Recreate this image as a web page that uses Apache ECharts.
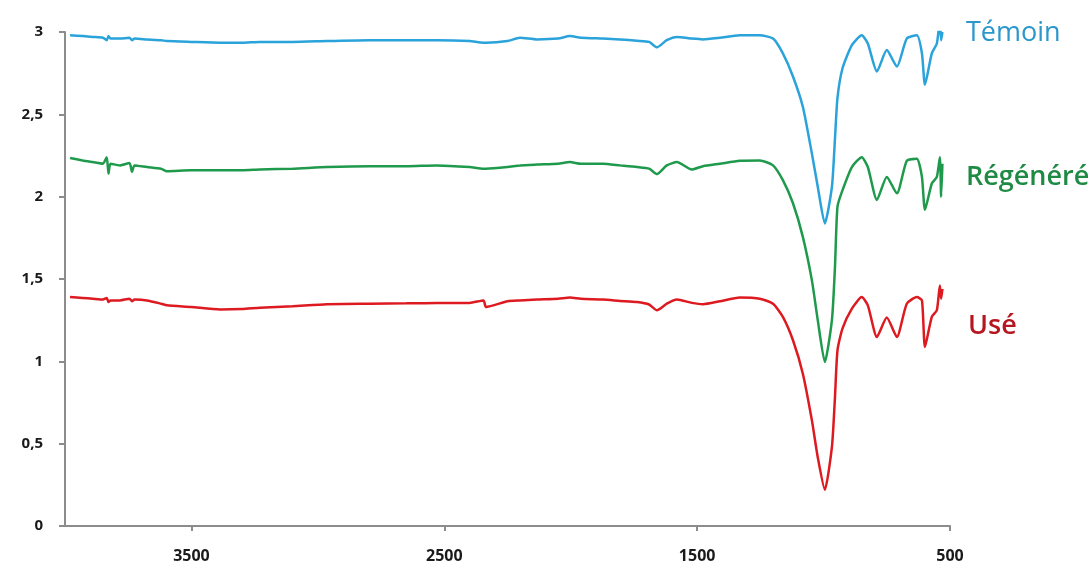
<!DOCTYPE html>
<html>
<head>
<meta charset="utf-8">
<title>Spectres IR</title>
<script src="https://cdn.jsdelivr.net/npm/echarts@6/dist/echarts.min.js"></script>
<style>
  html, body { margin: 0; padding: 0; background: #fff; }
  #chart { width: 1090px; height: 570px; }
</style>
</head>
<body>
<div id="chart"></div>
<script>
// nombre d'onde (cm-1)
const wavenumbers = [
  3980, 3930, 3890, 3850, 3835, 3828, 3820, 3783, 3745, 3735, 3725, 3676,
  3620, 3597, 3500, 3387, 3300, 3229, 3100, 2964, 2794, 2650, 2529, 2400,
  2345, 2335, 2250, 2201, 2134, 2050, 2003, 1960, 1873, 1805, 1738, 1690,
  1659, 1620, 1580, 1521, 1477, 1410, 1331, 1252, 1200, 1161, 1121, 1082,
  1046, 1023, 995, 967, 955, 945, 925, 888, 849, 825, 789, 750,
  710, 671, 631, 611, 599, 572, 552, 540, 535, 530
]

const temoin = [
  2.98, 2.975, 2.97, 2.965, 2.95, 2.975, 2.96, 2.96, 2.965, 2.95, 2.96, 2.955,
  2.95, 2.945, 2.94, 2.935, 2.935, 2.94, 2.94, 2.945, 2.95, 2.95, 2.95, 2.945,
  2.935, 2.935, 2.945, 2.965, 2.955, 2.96, 2.975, 2.965, 2.96, 2.955, 2.947, 2.94,
  2.907, 2.95, 2.97, 2.96, 2.955, 2.965, 2.98, 2.98, 2.96, 2.87, 2.73, 2.546,
  2.26, 2.06, 1.837, 2.06, 2.35, 2.6, 2.78, 2.92, 2.98, 2.93, 2.76, 2.89,
  2.79, 2.96, 2.98, 2.87, 2.68, 2.87, 2.93, 3.07, 2.95, 3.0
]

const regenere = [
  2.235, 2.22, 2.21, 2.2, 2.24, 2.14, 2.2, 2.19, 2.205, 2.15, 2.19, 2.18,
  2.17, 2.155, 2.16, 2.16, 2.16, 2.165, 2.17, 2.18, 2.185, 2.185, 2.19, 2.18,
  2.17, 2.17, 2.18, 2.19, 2.195, 2.2, 2.21, 2.2, 2.2, 2.19, 2.18, 2.17,
  2.137, 2.19, 2.21, 2.165, 2.185, 2.2, 2.218, 2.22, 2.19, 2.1, 1.96, 1.756,
  1.49, 1.25, 0.996, 1.25, 1.57, 1.94, 2.04, 2.18, 2.24, 2.18, 1.98, 2.12,
  2.02, 2.218, 2.23, 2.12, 1.92, 2.08, 2.12, 2.24, 2.0, 2.2
]

const use = [
  1.39, 1.385, 1.38, 1.375, 1.385, 1.36, 1.37, 1.37, 1.38, 1.365, 1.375, 1.37,
  1.35, 1.34, 1.33, 1.315, 1.318, 1.326, 1.335, 1.347, 1.35, 1.352, 1.355, 1.355,
  1.37, 1.33, 1.365, 1.37, 1.375, 1.38, 1.387, 1.38, 1.375, 1.367, 1.36, 1.345,
  1.31, 1.35, 1.375, 1.355, 1.347, 1.365, 1.387, 1.38, 1.35, 1.27, 1.128, 0.925,
  0.64, 0.418, 0.22, 0.48, 0.78, 1.067, 1.2, 1.32, 1.39, 1.34, 1.148, 1.266,
  1.148, 1.35, 1.39, 1.37, 1.087, 1.27, 1.31, 1.46, 1.38, 1.44
]

const yTicks = [0, 0.5, 1, 1.5, 2, 2.5, 3]
const xTicks = [3500, 2500, 1500, 500]

function pairs(values) {
  return wavenumbers.map((w, i) => [w, values[i]])
}

let chart = echarts.init(document.getElementById('chart'))

const axisGrey = '#8c8c8c'
const labelFont = 'Open Sans'

chart.setOption({
  animation: false,
  grid: { left: 65, right: 140, top: 32, bottom: 44 },
  xAxis: {
    type: 'value',
    inverse: true,
    min: 500,
    max: 4000,
    interval: 1000,
    splitLine: { show: false },
    axisLine: { lineStyle: { color: axisGrey, width: 2 } },
    axisTick: { length: 5, customValues: xTicks, lineStyle: { color: axisGrey, width: 2 } },
    axisLabel: {
      margin: 22,
      color: '#1a1a1a',
      fontFamily: labelFont,
      fontWeight: 'bold',
      fontSize: 16,
      customValues: xTicks,
      formatter: (v) => String(v)
    }
  },
  yAxis: {
    type: 'value',
    min: 0,
    max: 3,
    interval: 0.5,
    splitLine: { show: false },
    axisLine: { show: true, lineStyle: { color: axisGrey, width: 2 } },
    axisTick: { show: true, length: 6, lineStyle: { color: axisGrey, width: 2 } },
    axisLabel: {
      margin: 22,
      color: '#1a1a1a',
      fontFamily: labelFont,
      fontWeight: 'bold',
      fontSize: 15,
      formatter: (v) => (yTicks.indexOf(v) >= 0 ? String(v).replace('.', ',') : '')
    }
  },
  series: [
    { name: 'Témoin', type: 'line', data: pairs(temoin), showSymbol: false, smooth: 0.2,
      lineStyle: { color: '#2aa2da', width: 2.5 } },
    { name: 'Régénéré', type: 'line', data: pairs(regenere), showSymbol: false, smooth: 0.2,
      lineStyle: { color: '#1f9a4c', width: 2.5 } },
    { name: 'Usé', type: 'line', data: pairs(use), showSymbol: false, smooth: 0.2,
      lineStyle: { color: '#dd1a20', width: 2.5 } }
  ],
  // noms des courbes à droite
  graphic: [
    { type: 'text', left: 966, top: 20,
      style: { text: 'Témoin', fill: '#2b97cc', font: '27px "Open Sans"' } },
    { type: 'text', left: 966, top: 164,
      style: { text: 'Régénéré', fill: '#1e8a44', font: '600 27px "Open Sans"' } },
    { type: 'text', left: 968, top: 313,
      style: { text: 'Usé', fill: '#b5161f', font: '600 27px "Open Sans"' } }
  ]
})
</script>
</body>
</html>
